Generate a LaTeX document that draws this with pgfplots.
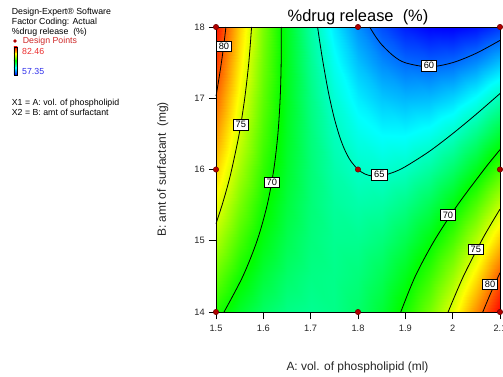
\documentclass[border=0pt]{standalone}
\usepackage{fontspec}
\setmainfont{Liberation Sans}
\usepackage{pgfplots}
\pgfplotsset{compat=1.18}
\definecolor{dpred}{RGB}{176,0,0}
\definecolor{dpedge}{RGB}{110,0,0}
\definecolor{legred}{RGB}{205,40,40}
\definecolor{hired}{RGB}{235,45,45}
\definecolor{loblue}{RGB}{45,45,235}
\pgfplotstableread{
x y z
1.50 14 70.70
1.55 14 68.81
1.60 14 67.46
1.65 14 66.63
1.70 14 66.32
1.75 14 66.55
1.80 14 67.30
1.85 14 68.58
1.90 14 70.39
1.95 14 72.73
2.00 14 75.59
2.05 14 78.98
2.10 14 82.90

1.50 14.5 72.52
1.55 14.5 70.26
1.60 14.5 68.53
1.65 14.5 67.33
1.70 14.5 66.66
1.75 14.5 66.51
1.80 14.5 66.89
1.85 14.5 67.80
1.90 14.5 69.24
1.95 14.5 71.21
2.00 14.5 73.70
2.05 14.5 76.72
2.10 14.5 80.27

1.50 15 74.23
1.55 15 71.60
1.60 15 69.50
1.65 15 67.93
1.70 15 66.88
1.75 15 66.36
1.80 15 66.38
1.85 15 66.91
1.90 15 67.98
1.95 15 69.58
2.00 15 71.70
2.05 15 74.35
2.10 15 77.53

1.50 15.5 75.82
1.55 15.5 72.82
1.60 15.5 70.35
1.65 15.5 68.41
1.70 15.5 66.99
1.75 15.5 66.10
1.80 15.5 65.74
1.85 15.5 65.91
1.90 15.5 66.61
1.95 15.5 67.83
2.00 15.5 69.58
2.05 15.5 71.86
2.10 15.5 74.67

1.50 16 77.30
1.55 16 73.93
1.60 16 71.09
1.65 16 68.78
1.70 16 66.99
1.75 16 65.73
1.80 16 65.00
1.85 16 64.80
1.90 16 65.12
1.95 16 65.98
2.00 16 67.36
2.05 16 69.26
2.10 16 71.70

1.50 16.5 78.67
1.55 16.5 74.93
1.60 16.5 71.72
1.65 16.5 69.03
1.70 16.5 66.88
1.75 16.5 65.25
1.80 16.5 64.14
1.85 16.5 63.57
1.90 16.5 63.53
1.95 16.5 64.01
2.00 16.5 65.02
2.05 16.5 66.55
2.10 16.5 68.62

1.50 17 79.93
1.55 17 75.81
1.60 17 72.23
1.65 17 69.18
1.70 17 66.65
1.75 17 64.65
1.80 17 63.18
1.85 17 62.23
1.90 17 61.81
1.95 17 61.93
2.00 17 62.56
2.05 17 63.73
2.10 17 65.43

1.50 17.5 81.07
1.55 17.5 76.59
1.60 17.5 72.63
1.65 17.5 69.21
1.70 17.5 66.31
1.75 17.5 63.94
1.80 17.5 62.09
1.85 17.5 60.78
1.90 17.5 59.99
1.95 17.5 59.73
2.00 17.5 60.00
2.05 17.5 60.80
2.10 17.5 62.12

1.50 18 82.10
1.55 18 77.25
1.60 18 72.92
1.65 18 69.13
1.70 18 65.86
1.75 18 63.11
1.80 18 60.90
1.85 18 59.21
1.90 18 58.06
1.95 18 57.43
2.00 18 57.32
2.05 18 57.75
2.10 18 58.70
}\surfdata
\begin{document}
\begin{tikzpicture}
\begin{axis}[
  view={0}{90},
  scale only axis,
  width=284bp, height=285bp,
  at={(0,0)}, anchor=south west,
  xmin=1.5, xmax=2.1, ymin=14, ymax=18,
  enlargelimits=false,
  clip=false,
  colormap={de}{rgb255=(0,0,255) rgb255=(0,255,255) rgb255=(0,255,0) rgb255=(255,255,0) rgb255=(255,0,0)},
  point meta min=57.35, point meta max=82.46,
  xtick={1.5,1.6,1.7,1.8,1.9,2.0,2.1},
  xticklabels={1.5,1.6,1.7,1.8,1.9,2,2.1},
  ytick={14,15,16,17,18},
  ztick=\empty,
  xtick pos=left, ytick pos=left,
  tick align=outside,
  major tick length=7bp,
  tick style={black, line width=0.7bp},
  axis line style={black, line width=0.9bp},
  /pgf/number format/assume math mode=true,
  tick label style={font=\fontsize{9.3}{10}\selectfont, text=black!85},
  xticklabel style={anchor=north, inner sep=0pt, yshift=-6bp},
  yticklabel style={anchor=east, inner sep=0pt, xshift=-4bp},
  every axis plot/.append style={line width=0.8bp},
]
\addplot3[surf, shader=interp, mesh/rows=9, mesh/cols=13] table[x=x, y=y, z=z] {\surfdata};
% contour 80 left
\addplot3[black, smooth, no marks] coordinates {(1.5,17.031,80) (1.5044,17.2,80) (1.5114,17.5,80) (1.5165,17.75,80) (1.5210,18,80)};
% contour 75 left
\addplot3[black, smooth, no marks] coordinates {(1.5,15.239,75) (1.5128,15.5,75) (1.5237,15.75,75) (1.5332,16,75) (1.5490,16.5,75) (1.5607,17,75) (1.5693,17.5,75) (1.5752,18,75)};
% contour 70 left
\addplot3[black, smooth, no marks] coordinates {(1.5170,14,70) (1.5567,14.5,70) (1.5868,15,70) (1.6081,15.5,70) (1.6221,16,70) (1.6308,16.5,70) (1.6356,17,70) (1.6377,17.5,70) (1.6378,18,70)};
% contour 70 right
\addplot3[black, smooth, no marks] coordinates {(1.8904,14,70) (1.9209,14.5,70) (1.9611,15,70) (2.0101,15.5,70) (2.0663,16,70) (2.0904,16.2,70) (2.1,16.278,70)};
% contour 75 right
\addplot3[black, smooth, no marks] coordinates {(1.9904,14,75) (2.0226,14.5,75) (2.061,15,75) (2.0825,15.25,75) (2.1,15.443,75)};
% contour 80 right
\addplot3[black, smooth, no marks] coordinates {(2.0637,14,80) (2.0794,14.25,80) (2.0965,14.5,80) (2.1,14.55,80)};
% contour 65
\addplot3[black, smooth, no marks] coordinates {(1.7146,18,65) (1.719,17.802,65) (1.725,17.548,65) (1.734,17.206,65) (1.74,17.004,65) (1.75,16.717,65) (1.761,16.466,65) (1.77,16.306,65) (1.7775,16.201,65) (1.785,16.117,65) (1.8,16,65) (1.815,15.936,65) (1.83,15.909,65) (1.85,15.913,65) (1.875,15.961,65) (1.9,16.040,65) (1.95,16.251,65) (2.0,16.503,65) (2.05,16.777,65) (2.1,17.066,65)};
% contour 60
\addplot3[black, smooth, no marks] coordinates {(1.8247,18,60) (1.836,17.878,60) (1.85,17.753,60) (1.875,17.594,60) (1.9,17.498,60) (1.95,17.440,60) (2.0,17.5,60) (2.05,17.632,60) (2.1,17.812,60)};
% design points
\addplot3[only marks, mark=*, mark size=2.7bp, mark options={fill=dpred, draw=dpedge, line width=0.5bp}] coordinates {
(1.5,14,90) (1.5,16,90) (1.5,18,90) (1.8,14,90) (1.8,16,90) (1.8,18,90) (2.1,14,90) (2.1,16,90) (2.1,18,90)};
% contour labels
\tikzset{clab/.style={fill=white, draw=black, line width=0.5bp, inner xsep=2.4bp, inner ysep=2.1bp, font=\fontsize{9.3}{10}\selectfont}}
\node[clab] at (axis cs:1.5168,17.73,80) {80};
\node[clab] at (axis cs:1.5524,16.63,75) {75};
\node[clab] at (axis cs:1.6178,15.82,70) {70};
\node[clab] at (axis cs:1.95,17.46,60) {60};
\node[clab] at (axis cs:1.845,15.93,65) {65};
\node[clab] at (axis cs:1.99,15.36,70) {70};
\node[clab] at (axis cs:2.049,14.88,75) {75};
\node[clab] at (axis cs:2.079,14.39,80) {80};
\end{axis}
% titles and labels
\node[anchor=base, font=\fontsize{16.5}{18}\selectfont] at (142bp,290.5bp) {\%drug release\ \ (\%)};
\node[anchor=base, font=\fontsize{12}{14}\selectfont, text=black!85] at (141.5bp,-58bp) {A: vol. of phospholipid (ml)};
\node[anchor=base, rotate=90, font=\fontsize{12}{14}\selectfont, text=black!85] at (-50bp,142.5bp) {B: amt of surfactant\ \ (mg)};
% info block
\begin{scope}[every node/.style={anchor=base west, inner sep=0pt, font=\fontsize{8.8}{10}\selectfont}]
\node at (-204.3bp,297.7bp) {Design-Expert® Software};
\node at (-204.3bp,287.7bp) {Factor Coding: Actual};
\node at (-204.3bp,277.7bp) {\%drug release\ \ (\%)};
\node[text=legred] at (-193.3bp,268bp) {Design Points};
\node[text=hired] at (-194bp,257bp) {82.46};
\node[text=loblue] at (-194bp,237bp) {57.35};
\node at (-204.3bp,206.7bp) {X1 = A: vol. of phospholipid};
\node at (-204.3bp,196.7bp) {X2 = B: amt of surfactant};
\end{scope}
\fill[dpred] (-201bp,271bp) circle (1.9bp);
\shade[top color=red, bottom color=yellow] (-202bp,258bp) rectangle (-198.5bp,265bp);
\shade[top color=yellow, bottom color=green] (-202bp,251bp) rectangle (-198.5bp,258bp);
\shade[top color=green, bottom color=cyan] (-202bp,244bp) rectangle (-198.5bp,251bp);
\shade[top color=cyan, bottom color=blue] (-202bp,237bp) rectangle (-198.5bp,244bp);
\draw[black, line width=0.5bp] (-202bp,237bp) rectangle (-198.5bp,265bp);
\pgfresetboundingbox
\path (-216bp,-65bp) rectangle (287bp,312bp);
\end{tikzpicture}
\end{document}
